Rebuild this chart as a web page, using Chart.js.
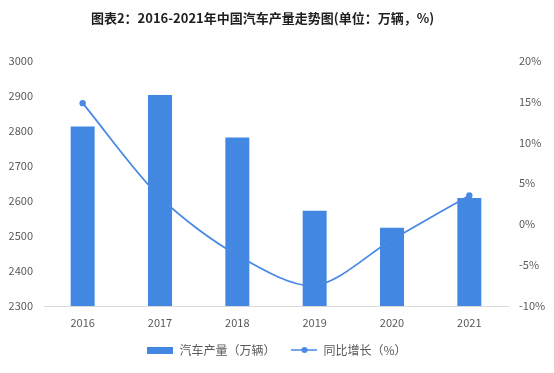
<!DOCTYPE html>
<html>
<head>
<meta charset="utf-8">
<script src="https://cdn.jsdelivr.net/npm/chart.js@4/dist/chart.umd.min.js"></script>
<style>
  html, body { margin: 0; padding: 0; background: #fff; }
  #wrap { width: 554px; height: 373px; }
</style>
</head>
<body>
<div id="wrap"><canvas id="car_chart" width="554" height="373"></canvas></div>
<script>
// data
var years = ["2016", "2017", "2018", "2019", "2020", "2021"];
var output_wan = [2812, 2902, 2781, 2572, 2523, 2608];
var growth_pct = [14.8, 3.3, -3.8, -7.5, -1.9, 3.5];
var left_ticks = { min: 2300, max: 3000, step: 100 };
var right_ticks = { min: -10, max: 20, step: 5 };

var barColor = "#4287e2";
var lineColor = "#4a89e3";
var tickColor = "#595959";

Chart.defaults.font.family = "'Noto Sans CJK SC', 'Noto Sans', sans-serif";

// legend icons
function barIcon() {
  var c = document.createElement("canvas");
  c.width = 26; c.height = 7;
  var g = c.getContext("2d");
  g.fillStyle = barColor;
  g.fillRect(0, 0, 26, 7);
  return c;
}
function lineIcon() {
  var c = document.createElement("canvas");
  c.width = 26; c.height = 8;
  var g = c.getContext("2d");
  g.strokeStyle = lineColor;
  g.lineWidth = 1.5;
  g.beginPath(); g.moveTo(0, 4); g.lineTo(26, 4); g.stroke();
  g.fillStyle = lineColor;
  g.beginPath(); g.arc(13, 4, 3, 0, Math.PI * 2); g.fill();
  return c;
}

var context_car = document.getElementById("car_chart").getContext("2d");

var carChart = new Chart(context_car, {
  type: 'bar',
  data: {
    labels: years,
    datasets: [
      {
        type: 'bar',
        label: "汽车产量（万辆）",
        data: output_wan,
        backgroundColor: barColor,
        yAxisID: 'y',
        barPercentage: 0.31,
        categoryPercentage: 1.0,
        order: 2
      },
      {
        type: 'line',
        label: "同比增长（%）",
        data: growth_pct,
        borderColor: lineColor,
        backgroundColor: lineColor,
        borderWidth: 1.8,
        tension: 0.3,
        pointRadius: [3.2, 0, 0, 0, 0, 3.2],
        pointBorderWidth: 0,
        yAxisID: 'y1',
        order: 1
      }
    ]
  },
  options: {
    responsive: false,
    animation: false,
    layout: { padding: { top: 0, bottom: 7, left: 0, right: 0 } },
    plugins: {
      tooltip: { enabled: false },
      title: {
        display: true,
        // trailing ideographic spaces nudge the centred title left like the original
        text: "图表2：2016-2021年中国汽车产量走势图(单位：万辆，%)\u3000\u3000 ",
        color: "#1f1f1f",
        font: { size: 13, weight: 'bold' },
        padding: { top: 10, bottom: 35 }
      },
      legend: {
        position: 'bottom',
        labels: {
          usePointStyle: true,
          pointStyleWidth: 26,
          padding: 10,
          color: tickColor,
          font: { size: 12 },
          generateLabels: function (chart) {
            return [
              { text: "汽车产量（万辆）\u3000", pointStyle: barIcon(), fontColor: tickColor, datasetIndex: 0, hidden: false, lineWidth: 0 },
              { text: "同比增长（%）", pointStyle: lineIcon(), fontColor: tickColor, datasetIndex: 1, hidden: false, lineWidth: 0 }
            ];
          }
        }
      }
    },
    scales: {
      x: {
        grid: { display: false, drawTicks: false },
        border: { display: true, color: "#d9d9d9", width: 1 },
        ticks: { color: tickColor, font: { size: 11 }, padding: 10 },
        afterFit: function (scale) { scale.height = 28; }
      },
      y: {
        position: 'left',
        min: left_ticks.min,
        max: left_ticks.max,
        grid: { display: false, drawTicks: false },
        border: { display: false },
        ticks: {
          stepSize: left_ticks.step,
          color: tickColor,
          font: { size: 11 },
          padding: 11,
          callback: function (v) { return String(v); }
        },
        afterFit: function (scale) { scale.width = 44; }
      },
      y1: {
        position: 'right',
        min: right_ticks.min,
        max: right_ticks.max,
        grid: { display: false, drawTicks: false },
        border: { display: false },
        ticks: {
          stepSize: right_ticks.step,
          color: tickColor,
          font: { size: 11 },
          padding: 11,
          callback: function (v) { return v + '%'; }
        },
        afterFit: function (scale) { scale.width = 46; }
      }
    }
  }
});
</script>
</body>
</html>
